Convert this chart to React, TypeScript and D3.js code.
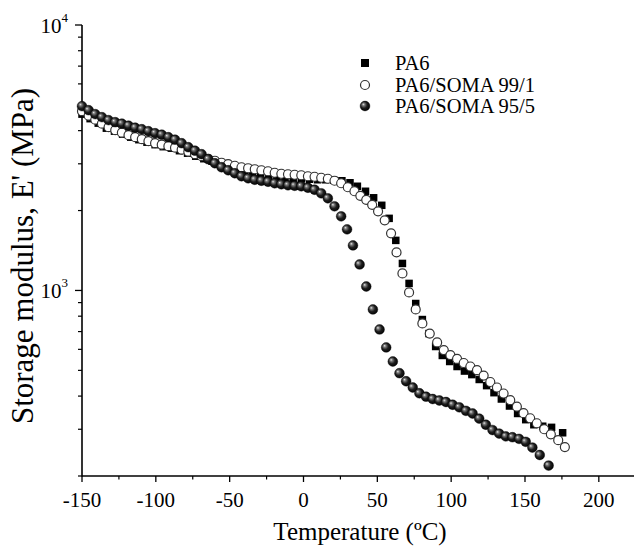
import React from "react";
import * as d3 from "d3";

const W = 634;
const H = 552;

const xMajorTicks = [-150, -100, -50, 0, 50, 100, 150, 200];
const xMinorTicks = [-125, -75, -25, 25, 75, 125, 175];
const yDecades = [1000, 10000];
const yMinorTicks = [200, 300, 400, 500, 600, 700, 800, 900, 2000, 3000, 4000, 5000, 6000, 7000, 8000, 9000];

const seriesNames = ["PA6", "PA6/SOMA 99/1", "PA6/SOMA 95/5"];

const pa6T = [-150, -144.5, -139, -133.5, -128, -122.5, -117, -111.5, -106, -100.5, -95, -89.5, -84, -78.5, -73, -67.5, -62, -56.5, -51, -45.5, -40, -34.5, -29, -23.5, -18, -12.5, -7, -1.5, 4, 9.5, 15, 20.5, 26, 31.5, 36.5, 42, 47.5, 53, 58, 62.5, 67, 71.5, 76, 80.5, 85, 89.5, 94, 99, 104, 109, 114, 119, 124, 129, 134, 139.5, 145, 150.5, 156, 162, 168, 175.5];
const pa6E = [4615, 4438, 4268, 4086, 3981, 3879, 3779, 3698, 3618, 3541, 3480, 3435, 3361, 3289, 3204, 3135, 3068, 3002, 2925, 2887, 2837, 2788, 2752, 2716, 2693, 2658, 2646, 2635, 2624, 2612, 2612, 2601, 2590, 2545, 2469, 2364, 2234, 2093, 1869, 1544, 1264, 1063, 893, 777, 688, 615, 569, 540, 517, 497, 482, 462, 438, 412, 390, 367, 344, 326, 312, 308, 305, 291];

const soma991T = [-150, -145.5, -141, -136.5, -132, -127.5, -123, -118.5, -114, -109.5, -105, -100.5, -96, -91.5, -87, -82.5, -78, -73.5, -69, -64.5, -60, -55.5, -51, -46.5, -42, -37.5, -33, -28.5, -24, -19.5, -15, -10.5, -6, -1.5, 3, 7.5, 12, 16.5, 21, 25.5, 30, 34.5, 38.5, 42.5, 46.5, 50.5, 55, 59.3, 63, 67, 71.5, 76, 80.5, 85.5, 90.5, 95, 99.5, 104, 108.5, 113, 117.5, 122, 126.5, 131, 135.5, 140, 144.5, 149, 153.5, 158, 163, 167.5, 172.5, 177];
const soma991E = [4737, 4555, 4400, 4249, 4121, 4015, 3929, 3845, 3779, 3714, 3650, 3587, 3541, 3495, 3450, 3391, 3332, 3261, 3204, 3135, 3081, 3028, 2989, 2950, 2912, 2887, 2862, 2837, 2812, 2776, 2752, 2740, 2728, 2716, 2693, 2681, 2658, 2635, 2590, 2534, 2448, 2364, 2273, 2195, 2102, 1987, 1837, 1641, 1391, 1159, 983, 848, 751, 688, 637, 596, 571, 552, 533, 517, 501, 478, 452, 431, 409, 386, 365, 345, 330, 316, 300, 287, 273, 257];

const soma955T = [-150, -145.5, -141, -136.5, -132, -127.5, -123, -118.5, -114, -109.5, -105, -100.5, -96, -91.5, -87, -82.5, -78, -73.5, -69, -64.5, -60, -55.5, -51, -46.5, -42, -37.5, -33, -28.5, -24, -19.5, -15, -10.5, -6, -1.5, 3, 7.5, 12, 16.5, 21, 25.5, 29.5, 33.5, 38, 42.5, 47, 51.5, 56, 60.5, 65, 69.5, 74, 78.5, 83, 87.5, 92, 96.5, 101, 105.5, 110, 114.5, 119, 123.5, 128, 132.5, 137, 141.5, 146, 150.5, 155, 160, 166];
const soma955E = [4947, 4776, 4615, 4496, 4381, 4305, 4250, 4176, 4104, 4050, 3981, 3912, 3862, 3779, 3698, 3587, 3465, 3361, 3261, 3122, 3015, 2912, 2837, 2764, 2693, 2646, 2612, 2590, 2567, 2534, 2512, 2490, 2479, 2469, 2437, 2395, 2323, 2224, 2075, 1902, 1699, 1478, 1253, 1035, 848, 713, 610, 540, 488, 455, 431, 410, 398, 390, 385, 380, 371, 363, 352, 344, 329, 312, 298, 289, 282, 280, 276, 269, 256, 240, 219];

const FONT = "'Liberation Serif', 'Times New Roman', serif";

const x = d3.scaleLinear().domain([-150, 224.5]).range([82, 635]);
const y = d3.scaleLog().domain([200, 10000]).range([476, 25]);

const zip = (t: number[], e: number[]) => t.map((v, i) => ({ t: v, e: e[i] }));

function Square({ cx, cy, s = 7.5 }: { cx: number; cy: number; s?: number }) {
  return <rect x={cx - s / 2} y={cy - s / 2} width={s} height={s} fill="#000" />;
}
function OpenCircle({ cx, cy }: { cx: number; cy: number }) {
  return <circle cx={cx} cy={cy} r={4.5} fill="#fff" stroke="#333" strokeWidth={1.2} />;
}
function Sphere({ cx, cy }: { cx: number; cy: number }) {
  return <circle cx={cx} cy={cy} r={4.9} fill="url(#sphereGrad)" stroke="#000" strokeWidth={0.4} />;
}

export default function App() {
  const pa6 = zip(pa6T, pa6E);
  const s991 = zip(soma991T, soma991E);
  const s955 = zip(soma955T, soma955E);
  const x0 = x.range()[0];
  const yBottom = y.range()[0];
  const yTop = y.range()[1];
  return (
    <svg
      width={W}
      height={H}
      style={{ position: "absolute", left: 0, top: 0, background: "#fff" }}
      fontFamily={FONT}
    >
      <defs>
        <radialGradient id="sphereGrad" cx="45%" cy="45%" r="60%" fx="32%" fy="32%">
          <stop offset="0%" stopColor="#e8e8e8" />
          <stop offset="22%" stopColor="#7a7a7a" />
          <stop offset="55%" stopColor="#1e1e1e" />
          <stop offset="100%" stopColor="#000" />
        </radialGradient>
      </defs>
      <rect width={W} height={H} fill="#fff" />

      {/* axes */}
      <line x1={x0} y1={yTop} x2={x0} y2={yBottom + 0.5} stroke="#000" strokeWidth={1.6} />
      <line x1={x0} y1={yBottom} x2={W} y2={yBottom} stroke="#000" strokeWidth={1.6} />

      {xMajorTicks.map((t) => (
        <g key={"xm" + t}>
          <line x1={x(t)} x2={x(t)} y1={yBottom} y2={yBottom + 6} stroke="#000" strokeWidth={1.3} />
          <text x={x(t)} y={507} fontSize={21} textAnchor="middle">
            {t}
          </text>
        </g>
      ))}
      {xMinorTicks.map((t) => (
        <line key={"xn" + t} x1={x(t)} x2={x(t)} y1={yBottom} y2={yBottom + 3.5} stroke="#000" strokeWidth={1.2} />
      ))}
      {yDecades.map((v) => (
        <g key={"yd" + v}>
          <line x1={x0 - 7} x2={x0} y1={y(v)} y2={y(v)} stroke="#000" strokeWidth={1.3} />
          <text x={68} y={y(v) + 8} fontSize={21} textAnchor="end">
            10
            <tspan dy={-11} fontSize={13}>
              {Math.round(Math.log10(v))}
            </tspan>
          </text>
        </g>
      ))}
      {yMinorTicks.map((v) => (
        <line key={"yn" + v} x1={x0 - 4} x2={x0} y1={y(v)} y2={y(v)} stroke="#000" strokeWidth={1.2} />
      ))}

      {/* axis titles */}
      <text x={360} y={540} fontSize={25} textAnchor="middle">
        Temperature (ºC)
      </text>
      <text transform="translate(33,256) rotate(-90)" fontSize={31} textAnchor="middle">
        Storage modulus, E' (MPa)
      </text>

      {/* data */}
      <g>
        {pa6.map((d, i) => (
          <Square key={"a" + i} cx={x(d.t)} cy={y(d.e)} />
        ))}
      </g>
      <g>
        {s991.map((d, i) => (
          <OpenCircle key={"b" + i} cx={x(d.t)} cy={y(d.e)} />
        ))}
      </g>
      <g>
        {s955.map((d, i) => (
          <Sphere key={"c" + i} cx={x(d.t)} cy={y(d.e)} />
        ))}
      </g>

      {/* legend */}
      <g>
        <Square cx={365} cy={63} s={8} />
        <text x={395} y={70} fontSize={20.5}>{seriesNames[0]}</text>
        <OpenCircle cx={365} cy={85} />
        <text x={395} y={92} fontSize={20.5}>{seriesNames[1]}</text>
        <Sphere cx={365} cy={106} />
        <text x={395} y={113} fontSize={20.5}>{seriesNames[2]}</text>
      </g>
    </svg>
  );
}
